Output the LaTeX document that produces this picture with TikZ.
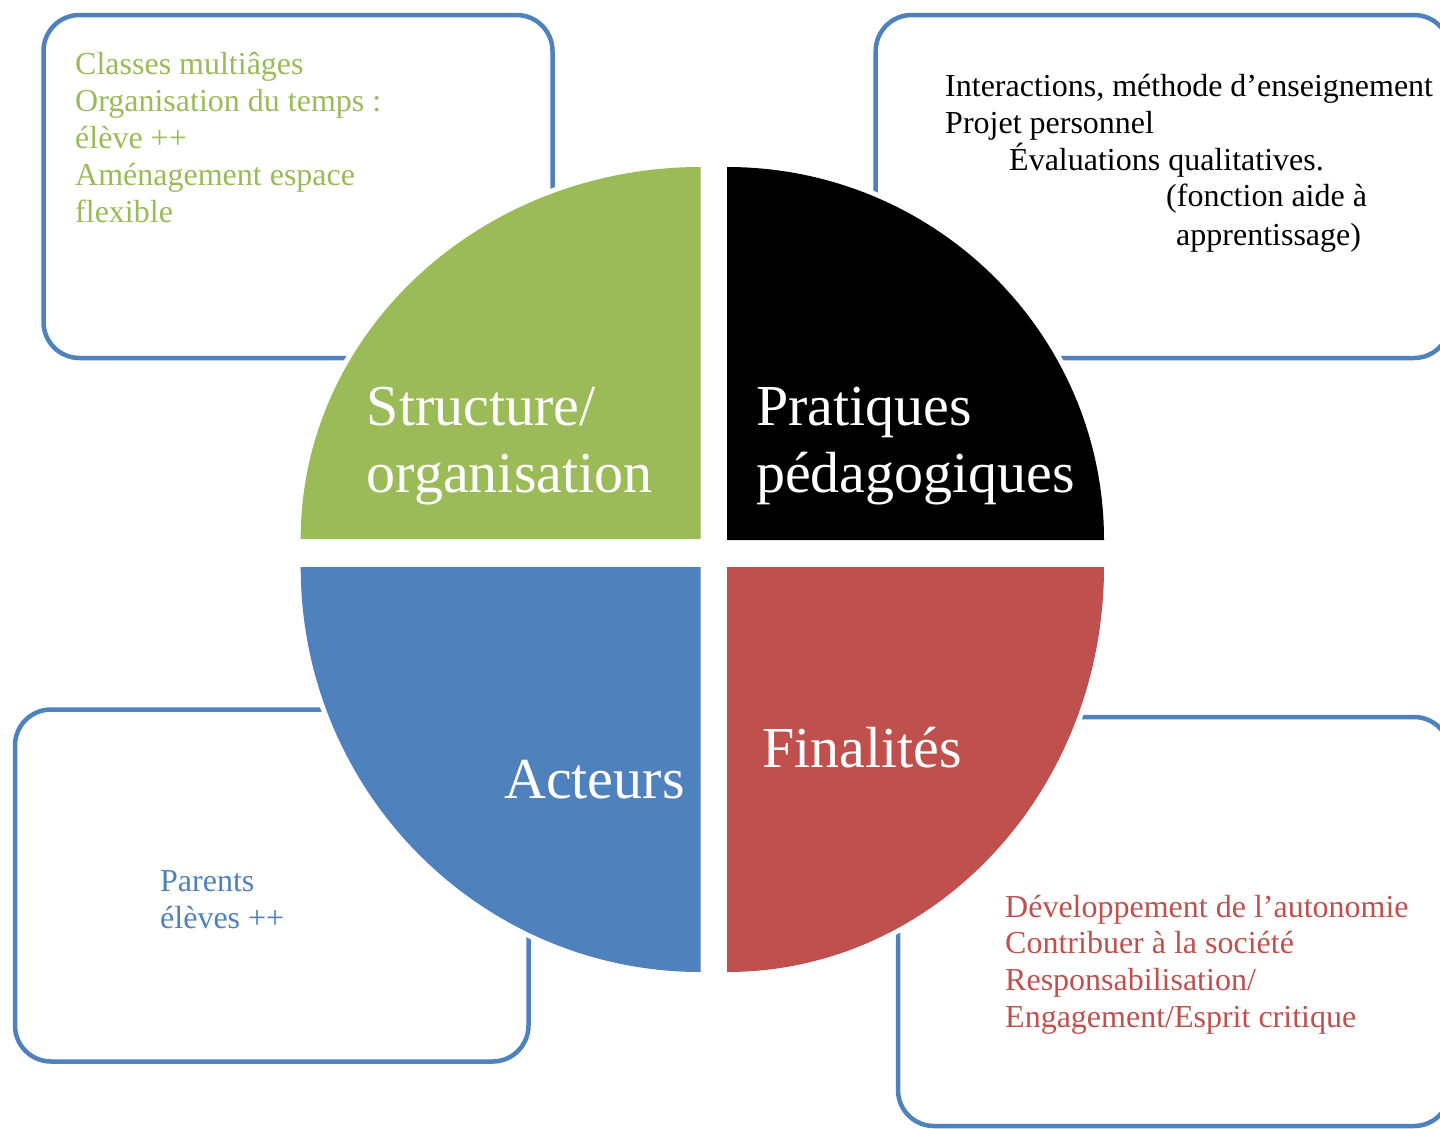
\documentclass[tikz,border=0pt]{standalone}
\usepackage{fontspec}
\setmainfont{Liberation Serif}
\definecolor{leafgreen}{HTML}{9BBB59}
\definecolor{steelblue}{HTML}{4F81BD}
\definecolor{brickred}{HTML}{C0504D}
% left-aligned stack of lines whose baseline is the first line's
\newcommand{\qlines}[1]{\vtop{\let\\\cr\halign{##\hfil\cr#1\crcr}}}
\begin{document}
\begin{tikzpicture}[x=1pt,y=-1pt,
  panel/.style={draw=steelblue, line width=4.5pt, rounded corners=36pt},
  halo/.style={fill=white, draw=white, line width=10pt},
  smalltext/.style={inner sep=0pt, anchor=base west, font=\fontsize{32}{36.8}\selectfont},
  bigtext/.style={inner sep=0pt, anchor=base west, text=white, font=\fontsize{58}{67}\selectfont}]
\clip (0,0) rectangle (1440,1128);
\fill[white] (0,0) rectangle (1440,1128);

% outlined panels behind the disc
\draw[panel] (43.5,15) rectangle (552.5,358);
\draw[panel] (875.7,15) rectangle (1450,358);
\draw[panel] (15,709.5) rectangle (528.5,1061.5);
\draw[panel] (898,717) rectangle (1450,1126);

% white halos that cut the panel outlines around the disc
\path[halo] (700.7,539) -- (300.7,539) arc[start angle=180, end angle=270, x radius=400, y radius=372] -- cycle;
\path[halo] (727,540) -- (727,167) arc[start angle=270, end angle=360, x radius=377, y radius=373] -- cycle;
\path[halo] (727,567) -- (1104,567) arc[start angle=0, end angle=90, x radius=377, y radius=405] -- cycle;
\path[halo] (700.7,567) -- (700.7,972) arc[start angle=90, end angle=180, x radius=400, y radius=405] -- cycle;

% the four quarters of the disc
\fill[leafgreen] (700.7,539) -- (300.7,539) arc[start angle=180, end angle=270, x radius=400, y radius=372] -- cycle;
\fill[black] (727,540) -- (727,167) arc[start angle=270, end angle=360, x radius=377, y radius=373] -- cycle;
\fill[brickred] (727,567) -- (1104,567) arc[start angle=0, end angle=90, x radius=377, y radius=405] -- cycle;
\fill[steelblue] (700.7,567) -- (700.7,972) arc[start angle=90, end angle=180, x radius=400, y radius=405] -- cycle;

% quarter titles
\node[bigtext] (structure) at (366.7,425) {\qlines{Structure/\\organisation}};
\node[bigtext] (pratiques) at (756,425) {\qlines{Pratiques\\pédagogiques}};
\node[bigtext] (acteurs) at (504,798) {Acteurs};
\node[bigtext] (finalites) at (762,767) {Finalités};

% panel contents
\node[smalltext, text=leafgreen] (structure-notes) at (75,74.8)
  {\qlines{Classes multiâges\\Organisation du temps :\\élève ++\\Aménagement espace\\flexible}};
\node[smalltext, text=black] (pratiques-notes) at (945,96.5)
  {\qlines{Interactions, méthode d’enseignement\\Projet personnel\\\hskip64pt Évaluations qualitatives.\\\hskip221pt (fonction aide à\\\hskip231pt \lower2pt\hbox{apprentissage)}}};
\node[smalltext, text=steelblue] (acteurs-notes) at (160,891.8)
  {\qlines{Parents\\élèves ++}};
\node[smalltext, text=brickred] (finalites-notes) at (1005,917)
  {\qlines{Développement de l’autonomie\\Contribuer à la société\\Responsabilisation/\\Engagement/Esprit critique}};
\end{tikzpicture}
\end{document}
